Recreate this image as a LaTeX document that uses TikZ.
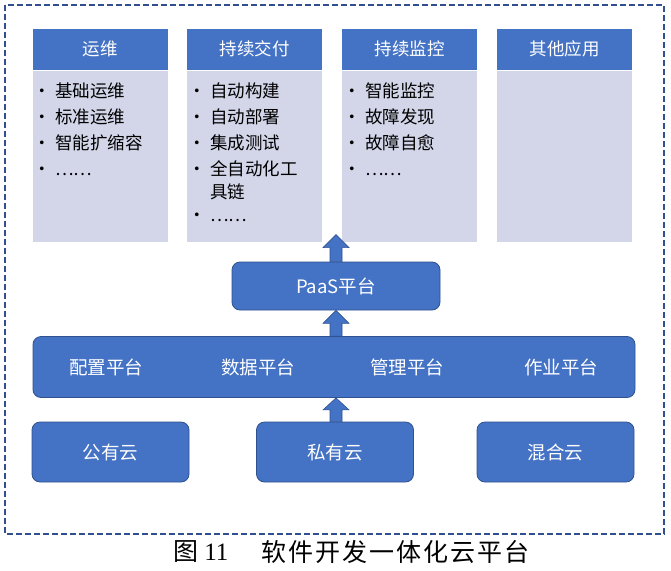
\documentclass[tikz,border=0pt]{standalone}
\usepackage{fontspec}
\setmainfont{Noto Sans CJK SC}
\newfontfamily\capfont[LetterSpace=8]{Noto Sans CJK SC}
\newfontfamily\numfont{Liberation Serif}
\usetikzlibrary{calc}
\definecolor{hdr}{HTML}{4472C4}
\definecolor{bodyc}{HTML}{D3D6E9}
\definecolor{edgec}{HTML}{2F528F}
\definecolor{dashc}{HTML}{2F4F8F}
\newcommand{\bl}{\makebox[22pt][l]{•}}
\tikzset{
  hdrbox/.style={fill=hdr, draw=white, line width=0.4pt, minimum width=136pt, minimum height=42pt, inner sep=0pt, text=white, font=\fontsize{17.5}{20}\selectfont},
  bodybox/.style={fill=bodyc, draw=white, line width=0.4pt, minimum width=136pt, minimum height=172pt, inner sep=0pt},
  listtext/.style={align=left, inner sep=0pt, anchor=north west, font=\fontsize{17.5}{26}\selectfont},
  platbox/.style={fill=hdr, draw=edgec, line width=0.8pt, rounded corners=8pt, inner sep=0pt, text=white, font=\fontsize{18.5}{22}\selectfont},
  plattext/.style={text=white, font=\fontsize{18.5}{22}\selectfont, inner sep=0pt},
  blockarrow/.style={fill=hdr, draw=edgec, line width=0.6pt},
}
\begin{document}
\begin{tikzpicture}[x=1pt,y=-1pt]
\useasboundingbox (0,0) rectangle (671,570);
% dashed frame
\draw[dashc, line width=2pt, dash pattern=on 6pt off 3pt] (5,5) rectangle (664,534);

% top boxes
\node[hdrbox] (h1) at (100,49) {运维};
\node[bodybox] (b1) at (100,156) {};
\node[hdrbox] (h2) at (254.5,49) {持续交付};
\node[bodybox] (b2) at (254.5,156) {};
\node[hdrbox] (h3) at (409.5,49) {持续监控};
\node[bodybox] (b3) at (409.5,156) {};
\node[hdrbox] (h4) at (564.5,49) {其他应用};
\node[bodybox] (b4) at (564.5,156) {};

\node[listtext] (l1) at (33,83) {\bl 基础运维\\ \bl 标准运维\\ \bl 智能扩缩容\\ \bl ……};
\node[listtext] (l2) at (188,83) {\bl 自动构建\\ \bl 自动部署\\ \bl 集成测试\\ \bl 全自动化工\\[-3pt] \hspace*{22pt}具链\\[-3pt] \bl ……};
\node[listtext] (l3) at (343,83) {\bl 智能监控\\ \bl 故障发现\\ \bl 故障自愈\\ \bl ……};

% PaaS
\node[platbox, minimum width=208pt, minimum height=48pt] (paas) at (336,286) {PaaS平台};

% platform bar
\node[platbox, minimum width=602pt, minimum height=61pt] (bar) at (334,367) {};
\node[plattext] (p1) at (106,367) {配置平台};
\node[plattext] (p2) at (258,367) {数据平台};
\node[plattext] (p3) at (407,367) {管理平台};
\node[plattext] (p4) at (561,367) {作业平台};

% clouds
\node[platbox, minimum width=157pt, minimum height=60pt] (c1) at (110.5,452) {公有云};
\node[platbox, minimum width=157pt, minimum height=60pt] (c2) at (335,452) {私有云};
\node[platbox, minimum width=157pt, minimum height=60pt] (c3) at (555.5,452) {混合云};

% block arrows
\coordinate (t1) at ($(paas.north)+(0,-27)$);
\fill[blockarrow] ($(paas.north)+(-6,0)$) -- ($(t1)+(-6,13)$) -- ($(t1)+(-13,13)$) -- (t1) -- ($(t1)+(13,13)$) -- ($(t1)+(6,13)$) -- ($(paas.north)+(6,0)$) -- cycle;
\coordinate (t2) at (paas.south);
\coordinate (a2) at (bar.north -| paas.south);
\fill[blockarrow] ($(a2)+(-6,0)$) -- ($(t2)+(-6,13)$) -- ($(t2)+(-13,13)$) -- (t2) -- ($(t2)+(13,13)$) -- ($(t2)+(6,13)$) -- ($(a2)+(6,0)$) -- cycle;
\coordinate (t3) at (bar.south -| paas.south);
\coordinate (a3) at (c2.north -| paas.south);
\fill[blockarrow] ($(a3)+(-6,0)$) -- ($(t3)+(-6,12)$) -- ($(t3)+(-13,12)$) -- (t3) -- ($(t3)+(13,12)$) -- ($(t3)+(6,12)$) -- ($(a3)+(6,0)$) -- cycle;

% caption
\node[inner sep=0pt, font=\fontsize{25}{28}\selectfont] (cap1) at (201,552) {图 {\numfont 11}};
\node[inner sep=0pt, anchor=west, font=\fontsize{25}{28}\capfont] (cap2) at (261,552) {软件开发一体化云平台};
\end{tikzpicture}
\end{document}
